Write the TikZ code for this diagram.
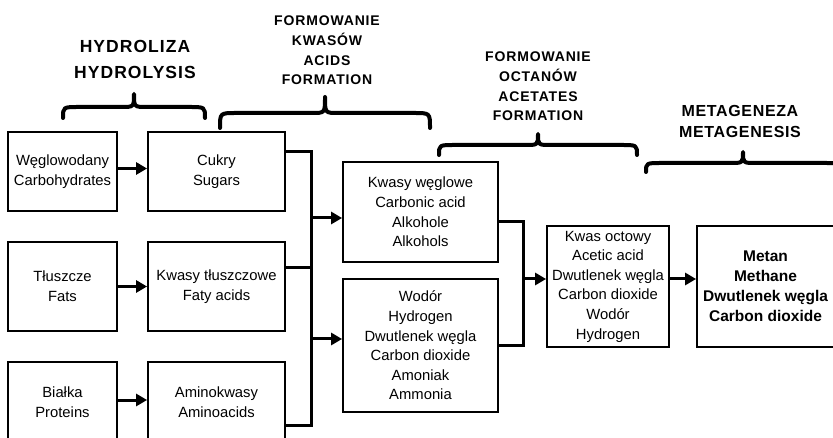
\documentclass[tikz,border=0pt]{standalone}
\usepackage{fontspec}
\setmainfont{Liberation Sans}
\newfontfamily\hdrfont[LetterSpace=6]{Liberation Sans}
\newfontfamily\metafont[LetterSpace=4]{Liberation Sans}
\usetikzlibrary{arrows.meta}
\tikzset{
  box/.style={draw, line width=1.8pt, inner sep=0pt, align=center,
    font=\fontsize{14.8}{19.6}\selectfont},
  boldbox/.style={box, font=\fontsize{15.5}{20}\selectfont\bfseries},
  conn/.style={line width=3pt, line join=miter},
  arr/.style={line width=3pt, -{Triangle[length=11pt,width=12pt]}},
  bracestyle/.style={line width=4pt, line cap=round, line join=round},
  hdr/.style={align=center, inner sep=0pt, font=\fontsize{14}{19.7}\hdrfont\bfseries},
  hdrbig/.style={align=center, inner sep=0pt, font=\fontsize{17.5}{26}\hdrfont\bfseries},
  hdrmeta/.style={align=center, inner sep=0pt, font=\fontsize{16}{21}\metafont\bfseries}
}
% left x, right x, end y, arm y, tip x, tip y
\newcommand\drawbrace[6]{%
  \draw[bracestyle] (#1,#3) .. controls (#1,#4) .. ({#1+16},#4) -- ({#5-13},#4)
    .. controls (#5,#4) .. (#5,#6) .. controls (#5,#4) .. ({#5+13},#4)
    -- ({#2-16},#4) .. controls (#2,#4) .. (#2,#3);}
\begin{document}
\begin{tikzpicture}[x=1pt,y=-1pt]
\useasboundingbox (0,0) rectangle (833,438);
\clip (0,0) rectangle (833,438);

% headers
\node[hdrbig] (h1) at (135,59) {HYDROLIZA\\HYDROLYSIS};
\node[hdr] (h2) at (327,50.5) {FORMOWANIE\\KWASÓW\\ACIDS\\FORMATION};
\node[hdr] (h3) at (538,86.5) {FORMOWANIE\\OCTANÓW\\ACETATES\\FORMATION};
\node[hdrmeta] (h4) at (740,121.5) {METAGENEZA\\METAGENESIS};

% braces
\drawbrace{63}{205}{118}{107}{134}{94}
\drawbrace{220}{430}{128}{113}{325}{97}
\drawbrace{439}{637}{155}{145}{538}{134}
\drawbrace{646}{840}{172}{163}{743}{152}

% boxes
\node[box, minimum width=109pt, minimum height=79pt] (A1) at (62.5,171.5) {Węglowodany\\Carbohydrates};
\node[box, minimum width=137pt, minimum height=79pt] (B1) at (216.5,171.5) {Cukry\\Sugars};
\node[box, minimum width=109pt, minimum height=89pt] (A2) at (62.5,286.5) {Tłuszcze\\Fats};
\node[box, minimum width=137pt, minimum height=89pt] (B2) at (216.5,286.5) {Kwasy tłuszczowe\\Faty acids};
\node[box, minimum width=109pt, minimum height=80pt] (A3) at (62.5,402) {Białka\\Proteins};
\node[box, minimum width=137pt, minimum height=80pt] (B3) at (216.5,402) {Aminokwasy\\Aminoacids};
\node[box, minimum width=155pt, minimum height=100pt] (C1) at (420.5,212) {Kwasy węglowe\\Carbonic acid\\Alkohole\\Alkohols};
\node[box, minimum width=155pt, minimum height=133pt] (C2) at (420.5,345.5) {Wodór\\Hydrogen\\Dwutlenek węgla\\Carbon dioxide\\Amoniak\\Ammonia};
\node[box, minimum width=122pt, minimum height=121pt] (D) at (608,286.5) {Kwas octowy\\Acetic acid\\Dwutlenek węgla\\Carbon dioxide\\Wodór\\Hydrogen};
\node[boldbox, minimum width=137pt, minimum height=121pt] (E) at (765.5,286.5) {Metan\\Methane\\Dwutlenek węgla\\Carbon dioxide};

% hydrolysis arrows
\draw[arr] ([yshift=3pt]A1.east) -- ([yshift=3pt]B1.west);
\draw[arr] (A2.east) -- (B2.west);
\draw[arr] ([yshift=2pt]A3.east) -- ([yshift=2pt]B3.west);

% first collector
\coordinate (ja) at (311,152);
\coordinate (jm) at (311,268);
\coordinate (jb) at (311,425);
\coordinate (j1) at (311,218);
\coordinate (j2) at (311,339);
\draw[conn] (B1.east |- ja) -- (ja) -- (jb) -- (B3.east |- jb);
\draw[conn] (B2.east |- jm) -- (jm);
\draw[arr] (j1) -- (C1.west |- j1);
\draw[arr] (j2) -- (C2.west |- j2);

% second collector
\coordinate (ka) at (523,222);
\coordinate (kb) at (523,346);
\coordinate (kc) at (523,279);
\draw[conn] (C1.east |- ka) -- (ka) -- (kb) -- (C2.east |- kb);
\draw[arr] (kc) -- (D.west |- kc);
\draw[arr] (D.east |- kc) -- (E.west |- kc);
\end{tikzpicture}
\end{document}
